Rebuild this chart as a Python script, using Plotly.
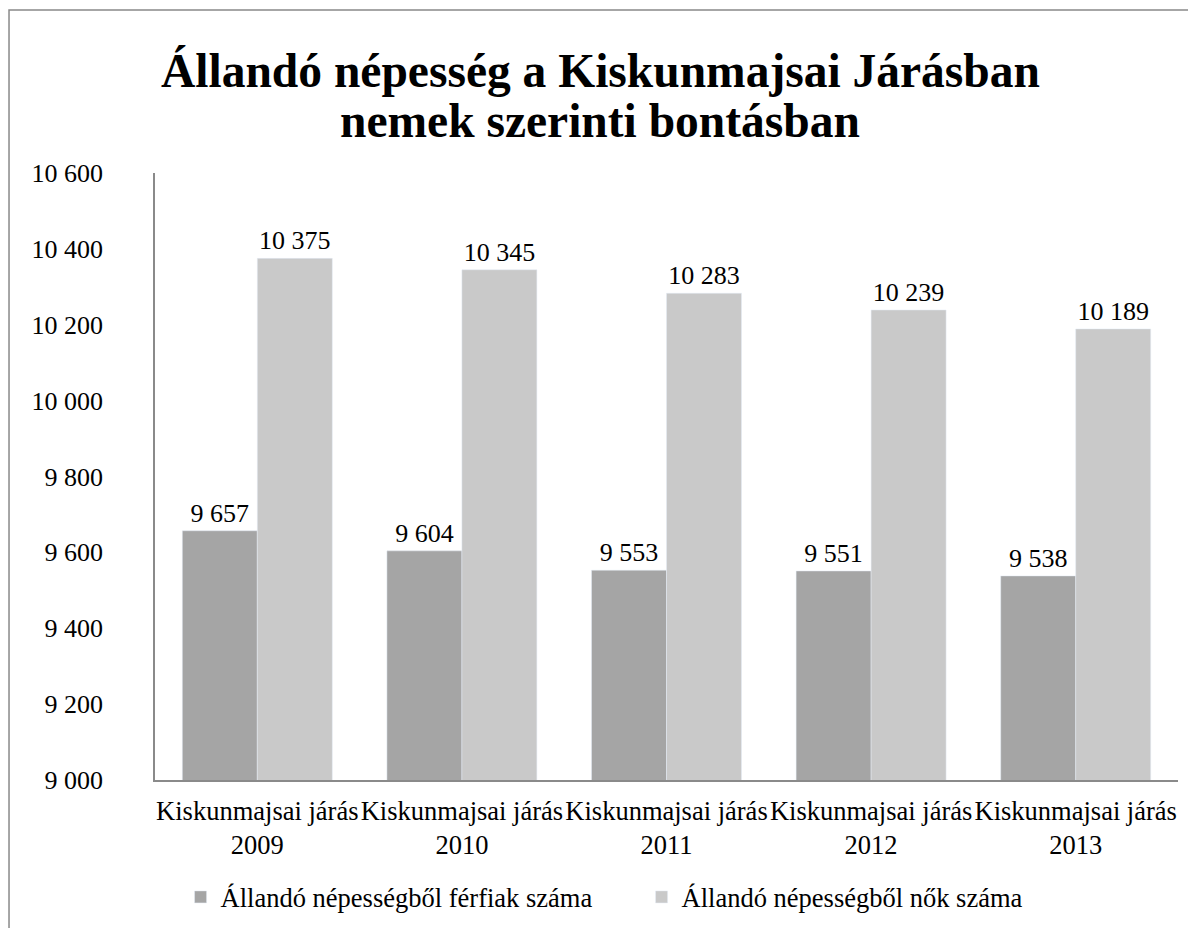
import plotly.graph_objects as go

categories = ["Kiskunmajsai járás<br>2009", "Kiskunmajsai járás<br>2010", "Kiskunmajsai járás<br>2011",
              "Kiskunmajsai járás<br>2012", "Kiskunmajsai járás<br>2013"]
men = [9657, 9604, 9553, 9551, 9538]
women = [10375, 10345, 10283, 10239, 10189]
series_names = ["Állandó népességből férfiak száma", "Állandó népességből nők száma"]
title_lines = ["Állandó népesség a Kiskunmajsai Járásban", "nemek szerinti bontásban"]

FONT = "Liberation Serif"

fig = go.Figure()
fig.add_trace(go.Bar(x=categories, y=men, name=series_names[0], marker_color="#a5a5a5",
                     text=men, texttemplate="%{y:,d}", textposition="outside",
                     textfont=dict(size=26, color="black", family=FONT), cliponaxis=False))
fig.add_trace(go.Bar(x=categories, y=women, name=series_names[1], marker_color="#c9c9c9",
                     text=women, texttemplate="%{y:,d}", textposition="outside",
                     textfont=dict(size=26, color="black", family=FONT), cliponaxis=False))

fig.update_layout(
    width=1196, height=928,
    margin=dict(l=147, r=26, t=165, b=156, autoexpand=False),
    paper_bgcolor="white", plot_bgcolor="white",
    separators=", ",
    barmode="group", bargap=0.267, bargroupgap=0,
    font=dict(family=FONT, size=26, color="black"),
    showlegend=True,
    legend=dict(orientation="h", x=0.025, xanchor="left", y=-0.193, yanchor="middle",
                entrywidth=416, entrywidthmode="pixels",
                font=dict(size=26.5, family=FONT), bgcolor="rgba(0,0,0,0)"),
    annotations=[
        dict(text="<b>%s</b>" % title_lines[0], xref="paper", yref="paper", x=0.435, y=1.168,
             xanchor="center", yanchor="middle", showarrow=False, font=dict(size=47.5, family=FONT)),
        dict(text="<b>%s</b>" % title_lines[1], xref="paper", yref="paper", x=0.435, y=1.086,
             xanchor="center", yanchor="middle", showarrow=False, font=dict(size=47.5, family=FONT)),
    ],
    shapes=[dict(type="rect", xref="paper", yref="paper", x0=-0.1427, y0=-0.3, x1=1.05, y1=1.2685,
                 line=dict(color="#898989", width=1.5), layer="below")],
)
fig.update_yaxes(range=[9000, 10600], dtick=200, tickformat=",d", showgrid=False,
                 showline=True, linecolor="#8a8a8a", linewidth=1.5, ticks="", zeroline=False,
                 ticklabelstandoff=45, tickfont=dict(size=26, family=FONT))
fig.update_xaxes(showline=True, linecolor="#8a8a8a", linewidth=1.5, ticks="", showgrid=False,
                 tickangle=0, tickfont=dict(size=26.5, family=FONT), ticklabelstandoff=6)

fig.write_html("out.html")
